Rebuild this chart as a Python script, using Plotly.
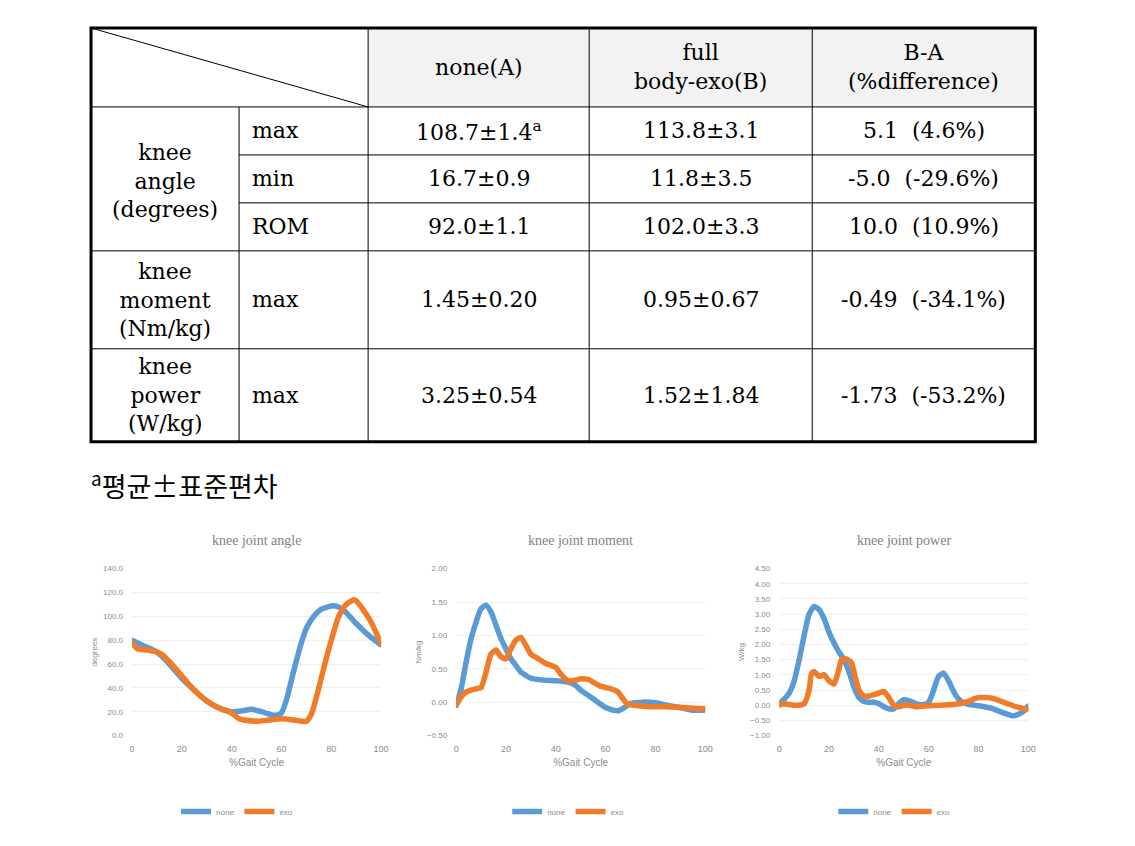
import plotly.graph_objects as go

W, H = 1135, 846
# measured placement of the drawn figure inside the photographed window
ORG, SCL = 11.0, 0.99

# ---------------- table data ----------------
col_headers = ["none(A)", "full<br>body-exo(B)", "B-A<br>(%difference)"]
group_labels = ["knee<br>angle<br>(degrees)", "knee<br>moment<br>(Nm/kg)", "knee<br>power<br>(W/kg)"]
row_labels = ["max", "min", "ROM", "max", "max"]
col_none = ["108.7±1.4<sup>a</sup>", "16.7±0.9", "92.0±1.1", "1.45±0.20", "3.25±0.54"]
col_exo = ["113.8±3.1", "11.8±3.5", "102.0±3.3", "0.95±0.67", "1.52±1.84"]
col_diff = ["5.1  (4.6%)", "-5.0  (-29.6%)", "10.0  (10.9%)", "-0.49  (-34.1%)", "-1.73  (-53.2%)"]
footnote = "<sup>a</sup>평균±표준편차"

# ---------------- chart data ----------------
angle_none_x = [0, 5, 10, 15, 20, 25, 30, 35, 40, 45, 48, 52, 55, 58, 60, 62, 65, 68, 70, 73, 76, 80, 82, 85, 90, 95, 100]
angle_none_y = [80, 75, 70, 60, 48, 38, 29, 23, 20, 21, 22, 20, 18, 17, 19, 30, 55, 78, 90, 100, 106, 108.7, 108.5, 105, 94, 84, 76]
angle_exo_x = [0, 2, 5, 8, 10, 12, 15, 20, 25, 30, 35, 40, 43, 45, 50, 55, 60, 65, 68, 70, 72, 75, 78, 80, 83, 86, 89, 90, 93, 96, 100]
angle_exo_y = [78, 73, 72, 71, 70, 68, 62, 50, 38, 29, 23, 19, 14, 13, 12, 13, 14, 13, 12, 12, 18, 40, 65, 80, 100, 110, 113.8, 113, 105, 95, 77]

moment_none_x = [0, 2, 4, 6, 8, 10, 12, 14, 16, 18, 20, 22, 24, 26, 28, 30, 35, 40, 45, 48, 50, 55, 60, 63, 65, 68, 70, 75, 80, 85, 90, 95, 100]
moment_none_y = [-0.05, 0.2, 0.6, 0.95, 1.2, 1.4, 1.45, 1.35, 1.15, 0.95, 0.8, 0.65, 0.55, 0.45, 0.4, 0.36, 0.33, 0.32, 0.3, 0.25, 0.18, 0.05, -0.08, -0.12, -0.13, -0.07, -0.02, 0.0, -0.01, -0.05, -0.08, -0.12, -0.12]
moment_exo_x = [0, 2, 4, 6, 8, 10, 12, 14, 16, 18, 20, 22, 24, 26, 28, 30, 33, 36, 40, 42, 45, 48, 50, 53, 55, 58, 60, 63, 65, 67, 69, 72, 75, 80, 85, 90, 95, 100]
moment_exo_y = [-0.05, 0.08, 0.15, 0.18, 0.2, 0.22, 0.45, 0.72, 0.78, 0.68, 0.65, 0.8, 0.93, 0.97, 0.85, 0.72, 0.65, 0.58, 0.52, 0.42, 0.32, 0.33, 0.35, 0.34, 0.3, 0.24, 0.22, 0.19, 0.15, 0.05, -0.03, -0.05, -0.06, -0.07, -0.07, -0.08, -0.09, -0.1]

power_none_x = [0, 2, 4, 6, 8, 10, 12, 14, 16, 18, 20, 22, 24, 26, 28, 30, 32, 34, 36, 38, 40, 42, 44, 46, 48, 50, 52, 54, 56, 58, 60, 62, 64, 66, 68, 70, 72, 74, 76, 80, 85, 90, 94, 96, 98, 100]
power_none_y = [0.05, 0.2, 0.4, 0.8, 1.5, 2.3, 3.0, 3.25, 3.15, 2.85, 2.4, 2.05, 1.75, 1.5, 1.1, 0.6, 0.25, 0.12, 0.1, 0.1, 0.05, -0.05, -0.12, -0.12, 0.05, 0.18, 0.15, 0.08, 0.02, 0.02, 0.1, 0.5, 0.95, 1.05, 0.8, 0.45, 0.2, 0.08, 0.03, -0.02, -0.1, -0.25, -0.35, -0.3, -0.2, -0.02]
power_exo_x = [0, 2, 4, 6, 8, 10, 12, 13, 14, 16, 18, 20, 22, 24, 25, 27, 29, 30, 32, 34, 36, 38, 40, 42, 44, 46, 48, 50, 52, 55, 60, 65, 70, 75, 78, 80, 83, 86, 90, 95, 100]
power_exo_y = [0.0, 0.05, 0.02, 0.0, 0.0, 0.05, 0.5, 1.05, 1.1, 0.95, 1.0, 0.8, 0.7, 1.2, 1.5, 1.52, 1.4, 1.1, 0.5, 0.3, 0.3, 0.35, 0.4, 0.45, 0.25, 0.0, -0.05, 0.0, 0.0, -0.05, -0.02, 0.0, 0.02, 0.1, 0.2, 0.25, 0.25, 0.22, 0.1, -0.05, -0.15]

chart_titles = ["knee joint angle", "knee joint moment", "knee joint power"]
y_titles = ["degrees", "Nm/kg", "W/kg"]
x_title = "%Gait Cycle"
series_names = ["none", "exo"]

BLUE = "#5B9BD5"
ORANGE = "#F07C2A"


def px(x):
    return ((x - ORG) / SCL) / W


def py(y):
    return 1 - ((y - ORG) / SCL) / H


fig = go.Figure()
shapes = []
annotations = []

# ---------------- table geometry (screen pixels) ----------------
xs = [91, 239, 368, 589, 812, 1035]
ys = [27, 106, 154, 202, 250, 348, 441]

shapes.append(dict(type="rect", xref="paper", yref="paper",
                   x0=px(xs[2]), x1=px(xs[5]), y0=py(ys[1]), y1=py(ys[0]),
                   fillcolor="#F2F2F2", line=dict(width=0), layer="below"))


def hline(x0, x1, y, w=1):
    shapes.append(dict(type="line", xref="paper", yref="paper",
                       x0=px(x0), x1=px(x1), y0=py(y), y1=py(y),
                       line=dict(color="black", width=w)))


def vline(x, y0, y1, w=1):
    shapes.append(dict(type="line", xref="paper", yref="paper",
                       x0=px(x), x1=px(x), y0=py(y0), y1=py(y1),
                       line=dict(color="black", width=w)))


hline(xs[0], xs[5], ys[1])
hline(xs[1], xs[5], ys[2])
hline(xs[1], xs[5], ys[3])
hline(xs[0], xs[5], ys[4])
hline(xs[0], xs[5], ys[5])
vline(xs[1], ys[1], ys[6])
for c in (2, 3, 4):
    vline(xs[c], ys[0], ys[6])
shapes.append(dict(type="line", xref="paper", yref="paper",
                   x0=px(xs[0]), y0=py(ys[0]), x1=px(xs[2]), y1=py(ys[1]),
                   line=dict(color="black", width=1)))
shapes.append(dict(type="rect", xref="paper", yref="paper",
                   x0=px(xs[0]), x1=px(xs[5]), y0=py(ys[6]), y1=py(ys[0]),
                   line=dict(color="black", width=3)))

TFONT = dict(family="DejaVu Serif", size=22, color="black")


def txt(x, y, s, align="center", xanchor="center", font=TFONT):
    annotations.append(dict(x=px(x), y=py(y), xref="paper", yref="paper",
                            text=s, showarrow=False, xanchor=xanchor,
                            yanchor="middle", align=align, font=font))


for i, h in enumerate(col_headers):
    cx = (xs[2 + i] + xs[3 + i]) / 2
    txt(cx, (ys[0] + ys[1]) / 2, h)

GFONT = dict(family="DejaVu Serif", size=22, color="black")
txt((xs[0] + xs[1]) / 2, (ys[1] + ys[4]) / 2 + 2, group_labels[0], font=GFONT)
txt((xs[0] + xs[1]) / 2, (ys[4] + ys[5]) / 2, group_labels[1], font=GFONT)
txt((xs[0] + xs[1]) / 2, (ys[5] + ys[6]) / 2, group_labels[2], font=GFONT)

row_bounds = [(ys[1], ys[2]), (ys[2], ys[3]), (ys[3], ys[4]), (ys[4], ys[5]), (ys[5], ys[6])]
for i, (a, b) in enumerate(row_bounds):
    cy = (a + b) / 2
    txt(xs[1] + 11, cy, row_labels[i], align="left", xanchor="left")
    txt((xs[2] + xs[3]) / 2, cy, col_none[i])
    txt((xs[3] + xs[4]) / 2, cy, col_exo[i])
    txt((xs[4] + xs[5]) / 2, cy, col_diff[i])

txt(89, 484, footnote, align="left", xanchor="left",
    font=dict(family="Noto Sans CJK KR", size=27, color="black"))

# ---------------- charts ----------------
doms_x = [(132, 381), (456, 705), (779, 1028)]
dom_y = (py(735), py(568))
yranges = [(0, 140), (-0.5, 2.0), (-1.0, 4.5)]
ydticks = [20, 0.5, 0.5]
yformats = [".1f", ".2f", ".2f"]
data = [
    (angle_none_x, angle_none_y, angle_exo_x, angle_exo_y),
    (moment_none_x, moment_none_y, moment_exo_x, moment_exo_y),
    (power_none_x, power_none_y, power_exo_x, power_exo_y),
]
legend_cx = [237, 568, 894]
GRAY = "#8C8C8C"
SF = "Liberation Sans Narrow, Liberation Sans"
layout_axes = {}
for i in range(3):
    sfx = "" if i == 0 else str(i + 1)
    leg = "legend" if i == 0 else "legend%d" % (i + 1)
    nx, ny, ex, ey = data[i]
    for name, xx, yy, col in ((series_names[0], nx, ny, BLUE), (series_names[1], ex, ey, ORANGE)):
        fig.add_trace(go.Scatter(
            x=xx, y=yy, name=name, mode="lines+markers",
            line=dict(color=col, width=5.5, shape="spline", smoothing=0.6),
            marker=dict(color=col, size=5),
            xaxis="x" + sfx, yaxis="y" + sfx, legend=leg))
    layout_axes["xaxis" + sfx] = dict(
        domain=[px(doms_x[i][0]), px(doms_x[i][1])], anchor="y" + sfx,
        range=[0, 100], tickvals=[0, 20, 40, 60, 80, 100],
        showgrid=False, zeroline=False, showline=False,
        tickfont=dict(family=SF, size=9, color=GRAY),
        title=dict(text=x_title, standoff=6, font=dict(family=SF, size=10, color=GRAY)),
        ticklabelstandoff=6)
    layout_axes["yaxis" + sfx] = dict(
        domain=list(dom_y), anchor="x" + sfx,
        range=list(yranges[i]), dtick=ydticks[i], tick0=0, tickformat=yformats[i],
        showgrid=True, gridcolor="#F0F0F0", gridwidth=1, zeroline=False, showline=False,
        tickfont=dict(family=SF, size=8, color=GRAY), ticklabelstandoff=8,
        title=dict(text=y_titles[i], standoff=4, font=dict(family=SF, size=8, color=GRAY)))
    layout_axes[leg] = dict(
        x=px(legend_cx[i]), y=py(811), xanchor="center", yanchor="middle",
        orientation="h", bgcolor="rgba(0,0,0,0)",
        font=dict(family=SF, size=8, color=GRAY),
        itemwidth=30, tracegroupgap=0)
    cx = (doms_x[i][0] + doms_x[i][1]) / 2
    annotations.append(dict(x=px(cx), y=py(540), xref="paper", yref="paper",
                            text=chart_titles[i], showarrow=False,
                            xanchor="center", yanchor="middle",
                            font=dict(family="Liberation Serif", size=14, color="#7F7F7F")))

fig.update_layout(
    width=W, height=H, margin=dict(l=0, r=0, t=0, b=0),
    paper_bgcolor="white", plot_bgcolor="white",
    shapes=shapes, annotations=annotations, **layout_axes)

fig.write_html("out.html")
